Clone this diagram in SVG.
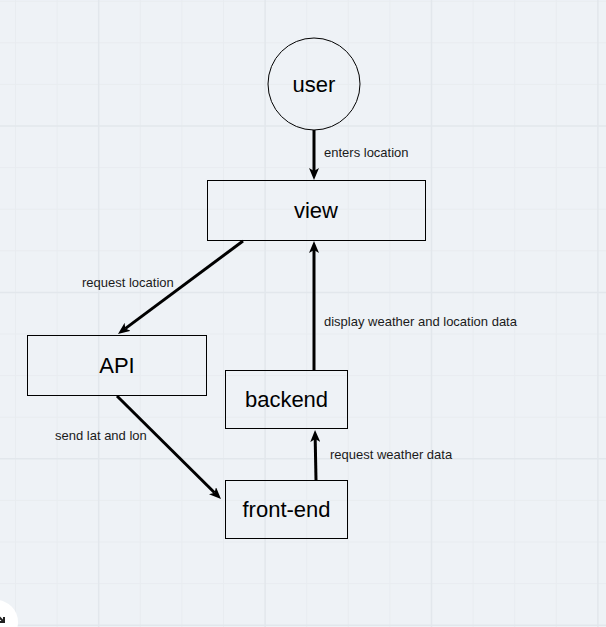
<svg xmlns="http://www.w3.org/2000/svg" width="606" height="627" viewBox="0 0 606 627">
<style>
.bg{fill:#eef2f6}
.minor{stroke:#e8ecf0;stroke-width:1;fill:none}
.major{stroke:#e2e7ec;stroke-width:1.5;fill:none}
.box{fill:none;stroke:#000;stroke-width:1}
.lbl{font-family:"Liberation Sans",Arial,sans-serif;font-size:22px;fill:#000;text-anchor:middle;dominant-baseline:central}
.edge{stroke:#000;stroke-width:3;fill:none}
.etxt{font-family:"Liberation Sans",Arial,sans-serif;font-size:13px;fill:#1a1a1a}
</style>
<defs>
<marker id="arr" viewBox="0 0 12 10" refX="3" refY="5" markerWidth="12" markerHeight="10" markerUnits="userSpaceOnUse" orient="auto">
<path d="M0,0 L12,5 L0,10 L3,5 z" fill="#000"/>
</marker>
</defs>
<rect class="bg" x="0" y="0" width="606" height="627"/>
<g id="grid">
<path class="minor" d="M15.5,0V627M57.1,0V627M140.3,0V627M181.9,0V627M223.5,0V627M306.7,0V627M348.3,0V627M389.9,0V627M473.1,0V627M514.7,0V627M556.3,0V627M0,1.2H606M0,42.8H606M0,84.4H606M0,167.6H606M0,209.2H606M0,250.8H606M0,334H606M0,375.6H606M0,417.2H606M0,500.4H606M0,542H606M0,583.6H606"/>
<path class="major" d="M98.7,0V627M265.1,0V627M431.5,0V627M597.9,0V627M0,126H606M0,292.4H606M0,458.8H606M0,625.2H606"/>
</g>
<g id="connectors">
<line class="edge" x1="314" y1="130" x2="314" y2="171" marker-end="url(#arr)"/>
<line class="edge" x1="243" y1="241" x2="125.2" y2="328.6" marker-end="url(#arr)"/>
<line class="edge" x1="117" y1="396" x2="214.6" y2="492.7" marker-end="url(#arr)"/>
<line class="edge" x1="316" y1="480" x2="315.2" y2="439" marker-end="url(#arr)"/>
<line class="edge" x1="314" y1="370" x2="314" y2="250" marker-end="url(#arr)"/>
<text class="etxt" x="324" y="157">enters location</text>
<text class="etxt" x="82" y="287">request location</text>
<text class="etxt" x="324" y="326">display weather and location data</text>
<text class="etxt" x="55" y="440">send lat and lon</text>
<text class="etxt" x="330" y="459">request weather data</text>
</g>
<g id="user">
<circle class="box" cx="314" cy="84" r="46"/>
<text class="lbl" x="314" y="84">user</text>
</g>
<g id="view">
<rect class="box" x="207.5" y="180.5" width="218" height="60"/>
<text class="lbl" x="316" y="210">view</text>
</g>
<g id="api">
<rect class="box" x="27.5" y="335.5" width="179" height="60"/>
<text class="lbl" x="117" y="365">API</text>
</g>
<g id="backend">
<rect class="box" x="225.5" y="370.5" width="122" height="58"/>
<text class="lbl" x="286.5" y="399.5">backend</text>
</g>
<g id="frontend">
<rect class="box" x="225.5" y="480.5" width="122" height="58"/>
<text class="lbl" x="286.5" y="509.5">front-end</text>
</g>
<g id="corner">
<circle cx="-4" cy="622" r="22" fill="#fff"/>
<path d="M-2,616 L4,622 M4,617 V622 H-1" stroke="#222" stroke-width="2" fill="none"/>
</g>
</svg>
